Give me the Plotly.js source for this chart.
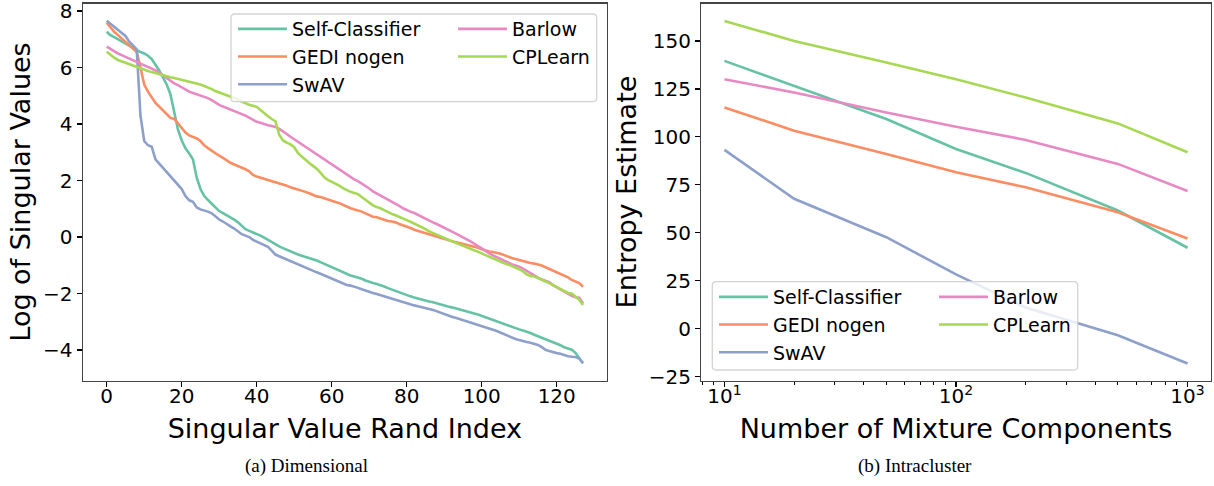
<!DOCTYPE html>
<html>
<head>
<meta charset="utf-8">
<script src="https://cdn.plot.ly/plotly-3.0.1.min.js"></script>
<style>html,body{margin:0;padding:0;background:#fff;}#chart{width:1214px;height:486px;}</style>
</head>
<body>
<div id="chart"></div>
<script>
// ---------- data ----------
const seriesNames = ["Self-Classifier", "GEDI nogen", "SwAV", "Barlow", "CPLearn"];
const seriesColors = ["#66c2a5", "#fc8d62", "#8da0cb", "#e78ac3", "#a6d854"];

// (a) Dimensional: log singular values, rank index 0..127
const selfClassifierDim = [7.27,7.15,7.08,7.0,6.93,6.85,6.76,6.68,6.6,6.55,6.5,6.42,6.3,6.1,5.9,5.65,5.4,5.05,4.4,3.8,3.42,3.14,2.96,2.75,2.1,1.7,1.45,1.3,1.18,1.05,0.92,0.85,0.78,0.72,0.62,0.52,0.4,0.28,0.22,0.17,0.12,0.05,-0.02,-0.1,-0.18,-0.27,-0.33,-0.39,-0.45,-0.52,-0.57,-0.62,-0.66,-0.7,-0.73,-0.77,-0.83,-0.89,-0.95,-1.02,-1.08,-1.12,-1.18,-1.24,-1.3,-1.36,-1.4,-1.43,-1.48,-1.54,-1.59,-1.63,-1.66,-1.7,-1.75,-1.81,-1.86,-1.9,-1.96,-2.02,-2.06,-2.1,-2.14,-2.18,-2.22,-2.26,-2.28,-2.31,-2.35,-2.4,-2.44,-2.46,-2.49,-2.53,-2.57,-2.61,-2.65,-2.68,-2.71,-2.74,-2.79,-2.84,-2.88,-2.93,-2.97,-3.02,-3.08,-3.13,-3.18,-3.23,-3.27,-3.31,-3.35,-3.4,-3.46,-3.51,-3.56,-3.61,-3.66,-3.72,-3.78,-3.83,-3.9,-3.95,-3.99,-4.1,-4.28,-4.47];
const gediDim = [7.59,7.42,7.27,7.15,7.03,6.92,6.8,6.7,6.55,6.0,5.4,5.15,4.95,4.75,4.62,4.48,4.35,4.22,4.18,4.02,3.82,3.7,3.6,3.55,3.49,3.4,3.25,3.15,3.05,2.98,2.88,2.8,2.7,2.63,2.57,2.52,2.46,2.4,2.33,2.2,2.14,2.1,2.07,2.02,1.98,1.94,1.9,1.87,1.82,1.76,1.72,1.7,1.66,1.6,1.55,1.49,1.44,1.42,1.37,1.32,1.28,1.24,1.2,1.15,1.08,1.02,0.98,0.95,0.9,0.84,0.78,0.72,0.7,0.65,0.6,0.57,0.55,0.52,0.46,0.42,0.38,0.32,0.26,0.22,0.17,0.13,0.08,0.04,0.0,-0.03,-0.07,-0.1,-0.14,-0.18,-0.21,-0.24,-0.27,-0.3,-0.34,-0.38,-0.43,-0.48,-0.51,-0.53,-0.55,-0.59,-0.64,-0.7,-0.74,-0.78,-0.82,-0.86,-0.89,-0.92,-0.94,-0.97,-1.01,-1.07,-1.13,-1.2,-1.26,-1.3,-1.36,-1.43,-1.52,-1.58,-1.63,-1.76];
const swavDim = [7.66,7.55,7.45,7.33,7.22,7.12,6.92,6.8,6.65,4.3,3.4,3.25,3.2,2.75,2.6,2.45,2.3,2.18,2.0,1.85,1.7,1.45,1.3,1.25,1.05,0.98,0.95,0.9,0.84,0.72,0.62,0.55,0.45,0.38,0.3,0.2,0.1,0.05,0.0,-0.1,-0.17,-0.22,-0.28,-0.35,-0.48,-0.62,-0.68,-0.74,-0.8,-0.86,-0.92,-0.97,-1.02,-1.08,-1.14,-1.2,-1.25,-1.3,-1.36,-1.42,-1.47,-1.52,-1.58,-1.65,-1.7,-1.72,-1.75,-1.8,-1.85,-1.9,-1.94,-1.98,-2.02,-2.06,-2.1,-2.14,-2.19,-2.23,-2.28,-2.32,-2.35,-2.38,-2.42,-2.45,-2.49,-2.52,-2.55,-2.58,-2.63,-2.68,-2.74,-2.78,-2.82,-2.86,-2.9,-2.94,-2.98,-3.02,-3.06,-3.1,-3.14,-3.19,-3.24,-3.28,-3.33,-3.39,-3.45,-3.5,-3.56,-3.61,-3.65,-3.69,-3.72,-3.74,-3.77,-3.82,-3.9,-3.99,-4.04,-4.08,-4.11,-4.13,-4.18,-4.22,-4.24,-4.25,-4.3,-4.47];
const barlowDim = [6.74,6.65,6.57,6.5,6.44,6.38,6.33,6.27,6.21,6.15,6.1,6.04,5.97,5.9,5.82,5.72,5.62,5.52,5.44,5.38,5.3,5.22,5.15,5.1,5.06,5.02,4.97,4.92,4.85,4.75,4.68,4.62,4.57,4.52,4.46,4.4,4.35,4.3,4.23,4.15,4.08,4.05,4.0,3.96,3.93,3.9,3.83,3.75,3.65,3.55,3.46,3.38,3.3,3.2,3.1,3.02,2.94,2.85,2.76,2.65,2.58,2.5,2.4,2.3,2.22,2.12,2.04,1.98,1.9,1.8,1.72,1.62,1.55,1.47,1.38,1.32,1.25,1.18,1.1,1.02,0.95,0.9,0.85,0.78,0.71,0.65,0.58,0.52,0.46,0.4,0.33,0.27,0.2,0.13,0.06,0.0,-0.08,-0.15,-0.25,-0.32,-0.4,-0.5,-0.58,-0.65,-0.72,-0.78,-0.84,-0.9,-0.96,-1.0,-1.05,-1.12,-1.2,-1.3,-1.38,-1.44,-1.5,-1.56,-1.6,-1.7,-1.78,-1.86,-1.92,-2.0,-2.08,-2.13,-2.15,-2.35];
const cplearnDim = [6.56,6.45,6.35,6.27,6.22,6.17,6.12,6.07,6.02,5.96,5.92,5.88,5.84,5.8,5.76,5.72,5.69,5.66,5.63,5.6,5.57,5.53,5.49,5.46,5.44,5.4,5.35,5.3,5.24,5.17,5.12,5.08,5.02,4.97,4.93,4.87,4.8,4.74,4.68,4.65,4.61,4.5,4.38,4.28,4.18,4.1,3.62,3.42,3.34,3.28,3.18,2.98,2.85,2.72,2.62,2.52,2.42,2.28,2.12,2.02,1.96,1.9,1.82,1.73,1.66,1.6,1.56,1.52,1.42,1.32,1.22,1.12,1.06,1.02,0.95,0.88,0.82,0.77,0.72,0.65,0.6,0.54,0.48,0.42,0.35,0.28,0.2,0.14,0.08,0.03,-0.03,-0.08,-0.14,-0.2,-0.26,-0.31,-0.36,-0.41,-0.46,-0.52,-0.58,-0.64,-0.7,-0.76,-0.82,-0.88,-0.93,-0.97,-1.02,-1.08,-1.14,-1.22,-1.32,-1.38,-1.4,-1.45,-1.52,-1.58,-1.63,-1.7,-1.78,-1.86,-1.93,-1.98,-2.0,-2.1,-2.22,-2.41];

// (b) Intracluster: entropy estimate vs number of mixture components
const mixtureComponents = [10, 20, 50, 100, 200, 500, 1000];
const selfClassifierEnt = [139.6, 126.6, 109.3, 93.7, 81.2, 61.6, 42.2];
const gediEnt = [115.3, 103.2, 91.1, 81.5, 73.7, 60.7, 47.0];
const swavEnt = [93.2, 67.7, 47.7, 28.3, 11.0, -3.4, -18.1];
const barlowEnt = [130.0, 123.1, 112.7, 105.3, 98.4, 85.9, 71.8];
const cplearnEnt = [160.4, 150.0, 138.7, 130.0, 120.5, 107.0, 92.0];

const xTickValsA = [0, 20, 40, 60, 80, 100, 120];
const yTickValsA = [-4, -2, 0, 2, 4, 6, 8];
const xTickValsB = [10, 100, 1000];
const xTickTextB = ["10<sup>1</sup>", "10<sup>2</sup>", "10<sup>3</sup>"];
const xMinorValsB = [8, 9, 20, 30, 40, 50, 60, 70, 80, 90, 200, 300, 400, 500, 600, 700, 800, 900];
const yTickValsB = [-25, 0, 25, 50, 75, 100, 125, 150];

// ---------- layout helpers ----------
const W = 1214, H = 486;
const px = v => v / W;
const py = v => 1 - v / H;

const dimSeries = [selfClassifierDim, gediDim, swavDim, barlowDim, cplearnDim];
const entSeries = [selfClassifierEnt, gediEnt, swavEnt, barlowEnt, cplearnEnt];
const rankIndex = selfClassifierDim.map((_, i) => i);

const traces = [];
seriesNames.forEach((name, k) => {
  traces.push({
    x: rankIndex, y: dimSeries[k], name: name, type: "scatter", mode: "lines",
    line: {color: seriesColors[k], width: 2.6},
    xaxis: "x", yaxis: "y", legend: k < 3 ? "legend" : "legend2"
  });
});
seriesNames.forEach((name, k) => {
  traces.push({
    x: mixtureComponents, y: entSeries[k], name: name, type: "scatter", mode: "lines",
    line: {color: seriesColors[k], width: 2.6},
    xaxis: "x2", yaxis: "y2", legend: k < 3 ? "legend3" : "legend4"
  });
});

const FONT = "DejaVu Sans, Verdana, sans-serif";
const tickFont = {family: FONT, size: 20, color: "#000"};
const titleFont = {family: FONT, size: 27, color: "#000"};
const legFont = {family: FONT, size: 19, color: "#000"};

function axisBase() {
  return {
    showgrid: false, zeroline: false, showline: true, mirror: true,
    linecolor: "#444", linewidth: 1.4,
    ticks: "outside", ticklen: 5, tickwidth: 1.3, tickcolor: "#000",
    tickfont: tickFont, ticklabeloverflow: "allow"
  };
}

const yTop = 3.5, yBot = 380.5;
const layout = {
  width: W, height: H,
  margin: {l: 0, r: 0, t: 0, b: 0},
  paper_bgcolor: "#fff", plot_bgcolor: "#fff",
  font: {family: FONT, color: "#000"},
  xaxis: Object.assign(axisBase(), {
    domain: [px(82.9), px(606.8)], range: [-6.35, 133.35],
    tickmode: "array", tickvals: xTickValsA, anchor: "y", ticklabelstandoff: -8,
    title: {text: "Singular Value Rand Index", font: titleFont, standoff: 12}
  }),
  yaxis: Object.assign(axisBase(), {
    domain: [py(yBot), py(yTop)], range: [-5.08, 8.27],
    tickmode: "array", tickvals: yTickValsA, anchor: "x",
    title: {text: "Log of Singular Values", font: titleFont, standoff: 4}
  }),
  xaxis2: Object.assign(axisBase(), {
    type: "log", domain: [px(701.3), px(1210.7)], range: [0.9, 3.1],
    tickmode: "array", tickvals: xTickValsB, ticktext: xTickTextB, anchor: "y2", ticklabelstandoff: -8,
    minor: {ticks: "outside", ticklen: 3, tickwidth: 1, tickcolor: "#000",
            tickmode: "array", tickvals: xMinorValsB, showgrid: false},
    title: {text: "Number of Mixture Components", font: titleFont, standoff: 12}
  }),
  yaxis2: Object.assign(axisBase(), {
    domain: [py(yBot), py(yTop)], range: [-27, 169.5],
    tickmode: "array", tickvals: yTickValsB, anchor: "x2",
    title: {text: "Entropy Estimate", font: titleFont, standoff: 4}
  }),
  showlegend: true,
  legend:  {x: px(233), y: py(10), xanchor: "left", yanchor: "top", bgcolor: "rgba(0,0,0,0)", borderwidth: 0, font: legFont, itemwidth: 49, traceorder: "normal"},
  legend2: {x: px(453), y: py(10), xanchor: "left", yanchor: "top", bgcolor: "rgba(0,0,0,0)", borderwidth: 0, font: legFont, itemwidth: 49, traceorder: "normal"},
  legend3: {x: px(714), y: py(278), xanchor: "left", yanchor: "top", bgcolor: "rgba(0,0,0,0)", borderwidth: 0, font: legFont, itemwidth: 49, traceorder: "normal"},
  legend4: {x: px(934), y: py(278), xanchor: "left", yanchor: "top", bgcolor: "rgba(0,0,0,0)", borderwidth: 0, font: legFont, itemwidth: 49, traceorder: "normal"},
  shapes: [],
  annotations: [
    {text: "(a) Dimensional", xref: "paper", yref: "paper", x: px(306), y: py(466), xanchor: "center", yanchor: "middle", showarrow: false,
     font: {family: "Liberation Serif, Times New Roman, serif", size: 19, color: "#000"}},
    {text: "(b) Intracluster", xref: "paper", yref: "paper", x: px(915), y: py(466), xanchor: "center", yanchor: "middle", showarrow: false,
     font: {family: "Liberation Serif, Times New Roman, serif", size: 19, color: "#000"}}
  ]
};

function roundBox(x0, y0, x1, y1, r) {
  const rx = r / W, ry = r / H;
  const X0 = px(x0), X1 = px(x1), Y0 = py(y0), Y1 = py(y1);
  return "M" + (X0 + rx) + "," + Y0 + " L" + (X1 - rx) + "," + Y0 +
    " Q" + X1 + "," + Y0 + " " + X1 + "," + (Y0 - ry) +
    " L" + X1 + "," + (Y1 + ry) + " Q" + X1 + "," + Y1 + " " + (X1 - rx) + "," + Y1 +
    " L" + (X0 + rx) + "," + Y1 + " Q" + X0 + "," + Y1 + " " + X0 + "," + (Y1 + ry) +
    " L" + X0 + "," + (Y0 - ry) + " Q" + X0 + "," + Y0 + " " + (X0 + rx) + "," + Y0 + " Z";
}
layout.shapes.push({type: "path", xref: "paper", yref: "paper", layer: "above",
  path: roundBox(231, 14, 596.7, 101.7, 4), fillcolor: "rgba(255,255,255,0.8)", line: {color: "#d3d3d3", width: 1.3}});
layout.shapes.push({type: "path", xref: "paper", yref: "paper", layer: "above",
  path: roundBox(712.3, 281.7, 1077.7, 370, 4), fillcolor: "rgba(255,255,255,0.8)", line: {color: "#d3d3d3", width: 1.3}});

Plotly.newPlot("chart", traces, layout, {displayModeBar: false, staticPlot: true});
</script>
</body>
</html>
